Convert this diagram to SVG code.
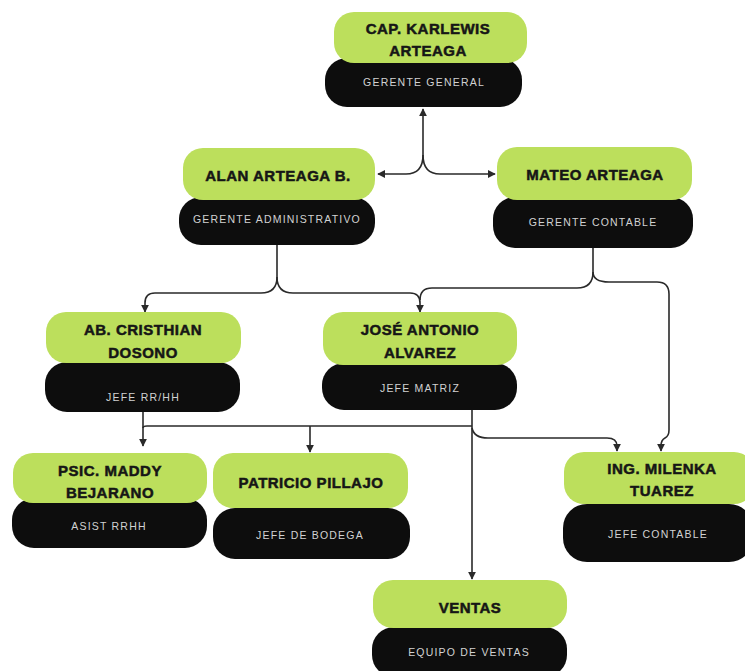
<svg xmlns="http://www.w3.org/2000/svg" width="745" height="671" viewBox="0 0 745 671">
<defs>
<marker id="ah" viewBox="0 0 10 10" refX="9" refY="5" markerWidth="5" markerHeight="5" orient="auto-start-reverse">
<path d="M0,0 L10,5 L0,10 z" fill="#2a2a2a"/>
</marker>
<style>
.g{fill:#bcdf5c}
.b{fill:#0d0d0d}
.n{font-family:"Liberation Sans",Arial,sans-serif;font-weight:bold;font-size:15px;fill:#161616;stroke:#161616;stroke-width:0.5;letter-spacing:0.5px;text-anchor:middle}
.s{font-family:"Liberation Sans",Arial,sans-serif;font-size:10.5px;fill:#d2d2d2;text-anchor:middle;letter-spacing:1.2px}
.c{fill:none;stroke:#2a2a2a;stroke-width:1.6}
</style>
</defs>
<rect width="745" height="671" fill="#ffffff"/>

<g id="connectors">
<path class="c" d="M423,155 V109" marker-end="url(#ah)"/>
<path class="c" d="M423,155 Q423,174 406,174 H378" marker-end="url(#ah)"/>
<path class="c" d="M423,155 Q423,174 440,174 H495" marker-end="url(#ah)"/>
<path class="c" d="M277,245 V277 Q277,293 261,293 H155 Q145,293 145,303 V312" marker-end="url(#ah)"/>
<path class="c" d="M277,277 Q277,293 293,293 H410 Q420,293 420,303 V312" marker-end="url(#ah)"/>
<path class="c" d="M593,248 V272 Q593,288 577,288 H432 Q420,288 420,300"/>
<path class="c" d="M593,272 Q593,282 609,282 H657 Q669,282 669,294 V430 Q669,436 665,438 Q661,440 661,446 V451" marker-end="url(#ah)"/>
<path class="c" d="M143,412 V446" marker-end="url(#ah)"/>
<path class="c" d="M143,428 Q143,426 147,426 H472"/>
<path class="c" d="M310,426 V452" marker-end="url(#ah)"/>
<path class="c" d="M472,410 V579" marker-end="url(#ah)"/>
<path class="c" d="M472,428 Q474,438 488,438 H607 Q617,438 617,446 V451" marker-end="url(#ah)"/>
</g>

<g id="node-karlewis">
<rect class="b" x="325" y="58" width="197" height="49" rx="22"/>
<rect class="g" x="334" y="12" width="193" height="51" rx="20"/>
<text class="n" x="428" y="34">CAP. KARLEWIS</text>
<text class="n" x="428" y="56">ARTEAGA</text>
<text class="s" x="424" y="86">GERENTE GENERAL</text>
</g>

<g id="node-alan">
<rect class="b" x="179" y="197" width="196" height="48" rx="22"/>
<rect class="g" x="183" y="148" width="192" height="52" rx="20"/>
<text class="n" x="278" y="181">ALAN ARTEAGA B.</text>
<text class="s" x="277" y="223">GERENTE ADMINISTRATIVO</text>
</g>

<g id="node-mateo">
<rect class="b" x="493" y="197" width="200" height="51" rx="22"/>
<rect class="g" x="497" y="147" width="195" height="53" rx="20"/>
<text class="n" x="595" y="180">MATEO ARTEAGA</text>
<text class="s" x="593" y="226">GERENTE CONTABLE</text>
</g>

<g id="node-cristhian">
<rect class="b" x="45" y="362" width="195" height="50" rx="22"/>
<rect class="g" x="46" y="312" width="195" height="51" rx="20"/>
<text class="n" x="143" y="335">AB. CRISTHIAN</text>
<text class="n" x="143" y="358">DOSONO</text>
<text class="s" x="143" y="401">JEFE RR/HH</text>
</g>

<g id="node-jose">
<rect class="b" x="322" y="363" width="195" height="47" rx="22"/>
<rect class="g" x="323" y="312" width="194" height="53" rx="20"/>
<text class="n" x="420" y="335">JOSÉ ANTONIO</text>
<text class="n" x="420" y="358">ALVAREZ</text>
<text class="s" x="420" y="392">JEFE MATRIZ</text>
</g>

<g id="node-maddy">
<rect class="b" x="12" y="498" width="195" height="50" rx="22"/>
<rect class="g" x="13" y="453" width="194" height="50" rx="20"/>
<text class="n" x="110" y="476">PSIC. MADDY</text>
<text class="n" x="110" y="498">BEJARANO</text>
<text class="s" x="109" y="530">ASIST RRHH</text>
</g>

<g id="node-pillajo">
<rect class="b" x="213" y="508" width="197" height="51" rx="22"/>
<rect class="g" x="213" y="453" width="195" height="55" rx="20"/>
<text class="n" x="311" y="488">PATRICIO PILLAJO</text>
<text class="s" x="310" y="539">JEFE DE BODEGA</text>
</g>

<g id="node-milenka">
<rect class="b" x="563" y="504" width="190" height="58" rx="24"/>
<rect class="g" x="564" y="452" width="190" height="52" rx="20"/>
<text class="n" x="662" y="474">ING. MILENKA</text>
<text class="n" x="662" y="496">TUAREZ</text>
<text class="s" x="658" y="538">JEFE CONTABLE</text>
</g>

<g id="node-ventas">
<rect class="b" x="372" y="627" width="195" height="50" rx="22"/>
<rect class="g" x="373" y="580" width="194" height="48" rx="20"/>
<text class="n" x="470" y="613">VENTAS</text>
<text class="s" x="469" y="656">EQUIPO DE VENTAS</text>
</g>
</svg>
